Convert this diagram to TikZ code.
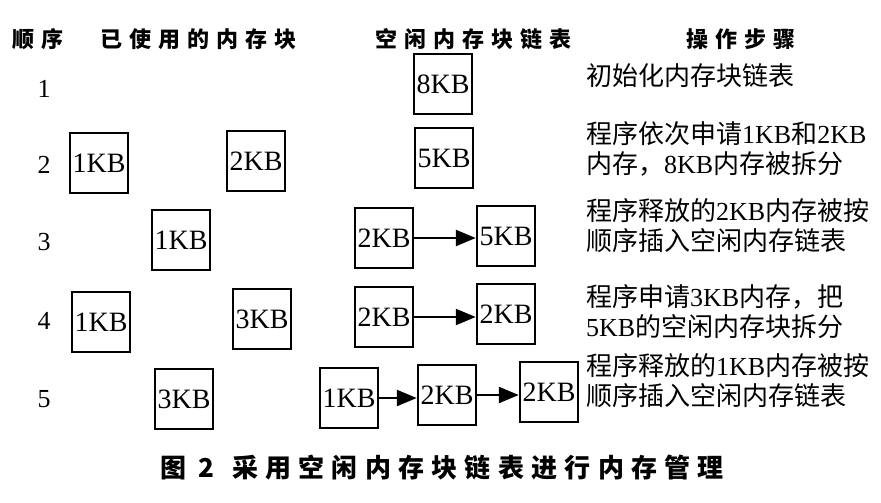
\documentclass[tikz,border=0pt]{standalone}
\usepackage{fontspec}
\usetikzlibrary{arrows.meta}
\setmainfont{Liberation Serif}
\newfontfamily\cjk{Noto Sans CJK SC}
\newfontfamily\cjksp[LetterSpace=32]{Noto Sans CJK SC}
\newfontfamily\cjkcap[LetterSpace=28]{Noto Sans CJK SC}
\begin{document}
\begin{tikzpicture}[x=1pt,y=-1pt,
  blk/.style={draw,line width=2.5pt,minimum width=58pt,minimum height=60pt,inner sep=0pt,font=\fontsize{28}{28}\selectfont},
  lnk/.style={line width=2.4pt,-{Triangle[length=20pt,width=16pt]}},
  hdr/.style={inner sep=0pt,anchor=west,font=\cjksp\bfseries\fontsize{22}{22}\selectfont},
  num/.style={inner sep=0pt,font=\fontsize{26}{26}\selectfont},
  stp/.style={inner sep=0pt,anchor=west,font=\fontsize{26}{26}\selectfont},
  captxt/.style={inner sep=0pt,anchor=west,font=\cjkcap\bfseries\fontsize{26}{26}\selectfont}]
\useasboundingbox[fill=white] (0,0) rectangle (881,503);
% headers
\node[hdr] (h1) at (12,39) {顺序};
\node[hdr] (h2) at (100,39) {已使用的内存块};
\node[hdr] (h3) at (375,39) {空闲内存块链表};
\node[hdr] (h4) at (686,39) {操作步骤};
% row numbers
\node[num] (n1) at (44,89) {1};
\node[num] (n2) at (44,165) {2};
\node[num] (n3) at (44,242) {3};
\node[num] (n4) at (44,321) {4};
\node[num] (n5) at (44,399) {5};
% row 1
\node[blk] (r1a) at (443,84) {8KB};
% row 2
\node[blk] (r2u1) at (99,163) {1KB};
\node[blk] (r2u2) at (256,161) {2KB};
\node[blk] (r2a) at (444,158) {5KB};
% row 3
\node[blk] (r3u1) at (181,240) {1KB};
\node[blk] (r3a) at (384,238) {2KB};
\node[blk] (r3b) at (506,236) {5KB};
% row 4
\node[blk] (r4u1) at (101,322) {1KB};
\node[blk] (r4u2) at (262,319) {3KB};
\node[blk] (r4a) at (384,317) {2KB};
\node[blk] (r4b) at (506,314) {2KB};
% row 5
\node[blk] (r5u1) at (184,399) {3KB};
\node[blk] (r5a) at (349,398) {1KB};
\node[blk] (r5b) at (447,395) {2KB};
\node[blk] (r5c) at (549,392) {2KB};
% links
\draw[lnk] (r3a.east) -- (r3a.east -| r3b.west);
\draw[lnk] (r4a.east) -- (r4a.east -| r4b.west);
\draw[lnk] (r5a.east) -- (r5a.east -| r5b.west);
\draw[lnk] (r5b.east) -- (r5b.east -| r5c.west);
% steps
\node[stp] (s1) at (586,76) {\cjk 初始化内存块链表};
\node[stp] (s2a) at (586,134) {{\cjk 程序依次申请}1KB{\cjk 和}2KB};
\node[stp] (s2b) at (586,164) {{\cjk 内存，}8KB{\cjk 内存被拆分}};
\node[stp] (s3a) at (586,211) {{\cjk 程序释放的}2KB{\cjk 内存被按}};
\node[stp] (s3b) at (586,241) {\cjk 顺序插入空闲内存链表};
\node[stp] (s4a) at (586,297) {{\cjk 程序申请}3KB{\cjk 内存，把}};
\node[stp] (s4b) at (586,327) {5KB{\cjk 的空闲内存块拆分}};
\node[stp] (s5a) at (586,366) {{\cjk 程序释放的}1KB{\cjk 内存被按}};
\node[stp] (s5b) at (586,396) {\cjk 顺序插入空闲内存链表};
% caption
\node[captxt] (c1) at (160,468) {图\hspace{12pt}2\hspace{18pt}采用空闲内存块链表进行内存管理};
\end{tikzpicture}
\end{document}
